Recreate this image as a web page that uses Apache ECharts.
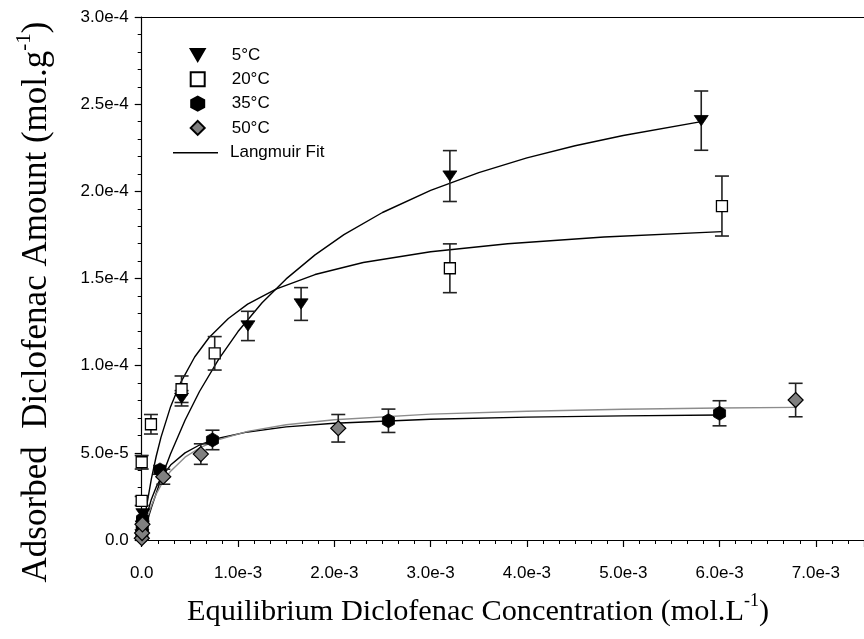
<!DOCTYPE html>
<html><head><meta charset="utf-8">
<script src="https://cdn.jsdelivr.net/npm/echarts@6/dist/echarts.min.js"></script>
<style>html,body{margin:0;padding:0;background:#fff}#c{width:864px;height:639px}</style>
</head><body><div id="c"></div>
<script>
// ---- tick labels ----
const xTickLabels = ['0.0','1.0e-3','2.0e-3','3.0e-3','4.0e-3','5.0e-3','6.0e-3','7.0e-3'];
const yTickLabels = ['0.0','5.0e-5','1.0e-4','1.5e-4','2.0e-4','2.5e-4','3.0e-4'];
const seriesNames = ['5°C','20°C','35°C','50°C'];
const fitName = 'Langmuir Fit';

// ---- measured points (C, q, error) ----
const c5  = [2e-6, 5e-6, 1.2e-5, 4.14e-4, 1.103e-3, 1.655e-3, 3.20e-3, 5.81e-3];
const q5  = [3e-6, 8e-6, 1.5e-5, 8.13e-5, 1.228e-4, 1.354e-4, 2.088e-4, 2.406e-4];
const e5  = [0, 0, 0, 4.4e-6, 8.4e-6, 9.4e-6, 1.46e-5, 1.7e-5];

const c20 = [5e-6, 0, 0, 9.6e-5, 4.14e-4, 7.58e-4, 3.20e-3, 6.025e-3];
const q20 = [1.0e-5, 2.24e-5, 4.46e-5, 6.64e-5, 8.65e-5, 1.071e-4, 1.559e-4, 1.916e-4];
const e20 = [0, 2.6e-6, 3.9e-6, 5.6e-6, 7.6e-6, 9.6e-6, 1.4e-5, 1.72e-5];

const c35 = [2e-6, 5e-6, 1e-5, 1.9e-4, 7.35e-4, 2.562e-3, 6.0e-3];
const q35 = [2e-6, 6e-6, 1.2e-5, 4.02e-5, 5.74e-5, 6.84e-5, 7.27e-5];
const e35 = [0, 0, 0, 2.5e-6, 5.6e-6, 6.7e-6, 7.2e-6];

const c50 = [1e-6, 4e-6, 8e-6, 2.24e-4, 6.14e-4, 2.041e-3, 6.79e-3];
const q50 = [1e-6, 4e-6, 9e-6, 3.63e-5, 4.93e-5, 6.41e-5, 8.03e-5];
const e50 = [0, 0, 0, 4.3e-6, 5.9e-6, 7.9e-6, 9.6e-6];

// ---- Langmuir fit curves ----
const fitC5  = [0, 2e-5, 5e-5, 1e-4, 2e-4, 3e-4, 4.5e-4, 6e-4, 8e-4, 1.0e-3, 1.25e-3, 1.5e-3, 1.8e-3, 2.1e-3, 2.5e-3, 3.0e-3, 3.5e-3, 4.0e-3, 4.5e-3, 5.0e-3, 5.81e-3];
const fitQ5  = [0, 3.9e-6, 9.55e-6, 1.85e-5, 3.49e-5, 4.95e-5, 6.87e-5, 8.52e-5, 1.038e-4, 1.196e-4, 1.361e-4, 1.498e-4, 1.636e-4, 1.752e-4, 1.879e-4, 2.006e-4, 2.108e-4, 2.192e-4, 2.262e-4, 2.321e-4, 2.400e-4];
const fitC20 = [0, 2e-5, 5e-5, 1e-4, 1.5e-4, 2e-4, 3e-4, 4e-4, 5.5e-4, 7e-4, 9e-4, 1.1e-3, 1.4e-3, 1.8e-3, 2.3e-3, 3.0e-3, 3.8e-3, 4.8e-3, 6.025e-3];
const fitQ20 = [0, 8.2e-6, 1.92e-5, 3.49e-5, 4.79e-5, 5.89e-5, 7.65e-5, 8.99e-5, 1.050e-4, 1.162e-4, 1.271e-4, 1.353e-4, 1.441e-4, 1.523e-4, 1.592e-4, 1.654e-4, 1.700e-4, 1.738e-4, 1.769e-4];
const fitC35 = [0, 2e-5, 5e-5, 1e-4, 1.5e-4, 2e-4, 3e-4, 4.5e-4, 6e-4, 8e-4, 1.1e-3, 1.5e-3, 2.0e-3, 3.0e-3, 4.0e-3, 5.0e-3, 6.0e-3];
const fitQ35 = [0, 6.2e-6, 1.38e-5, 2.33e-5, 3.03e-5, 3.55e-5, 4.30e-5, 5.00e-5, 5.45e-5, 5.84e-5, 6.20e-5, 6.49e-5, 6.70e-5, 6.93e-5, 7.05e-5, 7.12e-5, 7.17e-5];
const fitC50 = [0, 2e-5, 5e-5, 1e-4, 1.5e-4, 2.2e-4, 3e-4, 4.5e-4, 6e-4, 8e-4, 1.1e-3, 1.5e-3, 2.0e-3, 3.0e-3, 4.0e-3, 5.0e-3, 6.0e-3, 6.79e-3];
const fitQ50 = [0, 4.9e-6, 1.125e-5, 1.97e-5, 2.63e-5, 3.34e-5, 3.95e-5, 4.75e-5, 5.28e-5, 5.76e-5, 6.23e-5, 6.61e-5, 6.90e-5, 7.22e-5, 7.39e-5, 7.50e-5, 7.57e-5, 7.61e-5];

const zip2 = (a, b) => a.map((v, i) => [v, b[i]]);
const zip3 = (a, b, c) => a.map((v, i) => [v, b[i], c[i]]);

const TRI_DOWN = 'path://M0,0L14,0L7,12Z';
const HEX = 'path://M6.5,0L13,3.5L13,10.5L6.5,14L0,10.5L0,3.5Z';
const LINE_ICON = 'path://M0,0L45,0L45,1.4L0,1.4Z';

function errSeries(data) {
  return {
    type: 'custom', z: 3, silent: true, clip: false,
    data: data,
    renderItem: function (params, api) {
      const x = api.value(0), y = api.value(1), e = api.value(2);
      if (!e) return null;
      const t = api.coord([x, y + e]);
      const b = api.coord([x, y - e]);
      const hw = 7;
      const st = { stroke: '#222', lineWidth: 1.6 };
      return { type: 'group', children: [
        { type: 'line', shape: { x1: t[0], y1: t[1], x2: b[0], y2: b[1] }, style: st },
        { type: 'line', shape: { x1: t[0] - hw, y1: t[1], x2: t[0] + hw, y2: t[1] }, style: st },
        { type: 'line', shape: { x1: b[0] - hw, y1: b[1], x2: b[0] + hw, y2: b[1] }, style: st }
      ]};
    }
  };
}

function fitSeries(data, color) {
  return {
    name: fitName, type: 'line', z: 2, data: data, symbol: 'none', showSymbol: false,
    smooth: false, clip: false,
    lineStyle: { color: color, width: 1.4 }, itemStyle: { color: color }
  };
}

const labelFont = { fontFamily: 'Liberation Sans, Arial, sans-serif', fontSize: 17, color: '#000' };
const serif = 'Liberation Serif, Times New Roman, serif';

const chart = echarts.init(document.getElementById('c'), null, { renderer: 'canvas' });
chart.setOption({
  animation: false,
  backgroundColor: '#fff',
  grid: { left: 141.7, top: 17.1, right: -2.6, bottom: 99 },
  xAxis: [{
    type: 'value', min: 0, max: 7.5e-3, interval: 1e-3,
    axisLine: { show: true, lineStyle: { color: '#000', width: 1.2 } },
    axisTick: { show: true, inside: false, length: 7, lineStyle: { color: '#000', width: 1.2 } },
    minorTick: { show: true, splitNumber: 6, length: 4, lineStyle: { color: '#000', width: 1 } },
    splitLine: { show: false },
    axisLabel: Object.assign({
      margin: 25, showMaxLabel: false,
      formatter: v => { const i = Math.round(v / 1e-3); return Math.abs(v - i * 1e-3) < 1e-9 ? (xTickLabels[i] || '') : ''; }
    }, labelFont)
  }, {
    type: 'value', position: 'top', min: 0, max: 7.5e-3,
    axisLine: { show: true, onZero: false, lineStyle: { color: '#000', width: 1.2 } },
    axisTick: { show: false }, axisLabel: { show: false }, splitLine: { show: false }
  }],
  yAxis: {
    type: 'value', min: 0, max: 3e-4, interval: 5e-5,
    axisLine: { show: true, lineStyle: { color: '#000', width: 1.2 } },
    axisTick: { show: true, inside: false, length: 7, lineStyle: { color: '#000', width: 1.2 } },
    minorTick: { show: true, splitNumber: 5, length: 4, lineStyle: { color: '#000', width: 1 } },
    splitLine: { show: false },
    axisLabel: Object.assign({
      margin: 13,
      formatter: v => { const i = Math.round(v / 5e-5); return yTickLabels[i] || ''; }
    }, labelFont)
  },
  legend: [{
    data: seriesNames, orient: 'vertical', left: 184.7, top: 41.5,
    itemWidth: 14, itemHeight: 14, itemGap: 7.3, selectedMode: false,
    textStyle: Object.assign({ padding: [0, 0, 0, 22], lineHeight: 14 }, labelFont)
  }, {
    data: [{ name: fitName, icon: LINE_ICON }], orient: 'vertical', left: 168, top: 139.3,
    itemWidth: 45, itemHeight: 14, selectedMode: false,
    itemStyle: { color: '#000', borderWidth: 0 },
    textStyle: Object.assign({ padding: [0, 0, 0, 7], lineHeight: 14 }, labelFont)
  }],
  graphic: [{
    type: 'text', x: 478, y: 612,
    style: {
      text: '{b|Equilibrium Diclofenac Concentration (mol.L}{s|-1}{b|)}',
      align: 'center', verticalAlign: 'middle', fill: '#000',
      rich: {
        b: { fontFamily: serif, fontSize: 30.3, lineHeight: 40, fill: '#000' },
        s: { fontFamily: serif, fontSize: 18, lineHeight: 18, verticalAlign: 'top', fill: '#000' }
      }
    }
  }, {
    type: 'text', x: 37, y: 302, rotation: Math.PI / 2,
    style: {
      text: '{b|Adsorbed  Diclofenac Amount (mol.g}{s|-1}{b|)}',
      align: 'center', verticalAlign: 'middle', fill: '#000',
      rich: {
        b: { fontFamily: serif, fontSize: 35, lineHeight: 46, fill: '#000' },
        s: { fontFamily: serif, fontSize: 21, lineHeight: 21, verticalAlign: 'top', fill: '#000' }
      }
    }
  }],
  series: [
    fitSeries(zip2(fitC5, fitQ5), '#000'),
    fitSeries(zip2(fitC20, fitQ20), '#000'),
    fitSeries(zip2(fitC35, fitQ35), '#000'),
    fitSeries(zip2(fitC50, fitQ50), '#8c8c8c'),
    errSeries(zip3(c5, q5, e5)),
    errSeries(zip3(c20, q20, e20)),
    errSeries(zip3(c35, q35, e35)),
    errSeries(zip3(c50, q50, e50)),
    { name: seriesNames[0], type: 'scatter', z: 4, clip: false, data: zip2(c5, q5),
      symbol: TRI_DOWN, symbolSize: [14, 12], symbolKeepAspect: true,
      itemStyle: { color: '#000', borderColor: '#000', borderWidth: 0.8, opacity: 1 } },
    { name: seriesNames[1], type: 'scatter', z: 4, clip: false, data: zip2(c20, q20),
      symbol: 'rect', symbolSize: 11,
      itemStyle: { color: '#fff', borderColor: '#000', borderWidth: 1.3, opacity: 1 } },
    { name: seriesNames[2], type: 'scatter', z: 4, clip: false, data: zip2(c35, q35),
      symbol: HEX, symbolSize: [13, 14], symbolKeepAspect: true,
      itemStyle: { color: '#000', borderColor: '#000', borderWidth: 0.8, opacity: 1 } },
    { name: seriesNames[3], type: 'scatter', z: 4, clip: false, data: zip2(c50, q50),
      symbol: 'diamond', symbolSize: [15, 15],
      itemStyle: { color: '#808080', borderColor: '#000', borderWidth: 1.2, opacity: 1 } }
  ]
});
</script></body></html>
